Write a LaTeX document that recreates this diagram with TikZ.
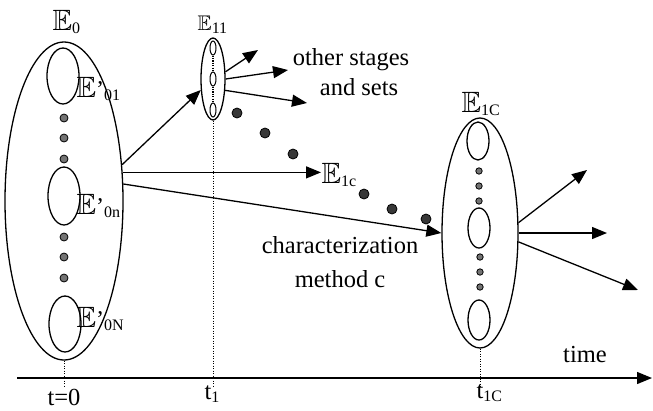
\documentclass[tikz,border=0pt]{standalone}
\usepackage{fontspec}
\setmainfont{Liberation Serif}
\usepackage{amssymb}
\usepackage{graphicx}
\usetikzlibrary{arrows.meta,shapes.geometric}
\newcommand{\bbE}{{\fontsize{24.88}{25}\selectfont\scalebox{1.18}{$\mathbb{E}$}}}
\newcommand{\smallbbE}{{\fontsize{24.88}{25}\selectfont\scalebox{0.85}{$\mathbb{E}$}}}
\newcommand{\apos}{{\fontsize{24}{24}\selectfont ’}}
\newcommand{\lowtxt}[1]{\raisebox{-3pt}{\fontsize{16}{16}\selectfont #1}}
\begin{document}
\begin{tikzpicture}[x=1pt,y=-1pt,line width=1.3pt,
  lab/.style={inner sep=0pt, anchor=base west},
  txt/.style={inner sep=0pt, anchor=base, font=\fontsize{24.5}{24.5}\selectfont},
  arr/.style={-{Triangle[length=15pt,width=12pt]}},
  big/.style={draw, ellipse, inner sep=0pt},
  dotA/.style={draw, line width=0.8pt, fill=black!55},
  dotB/.style={draw, line width=0.8pt, fill=black!78},
  guide/.style={line width=0.9pt, dash pattern=on 1pt off 1.5pt},
  chain/.style={line width=1.6pt, dash pattern=on 1.2pt off 1.2pt}]
\useasboundingbox (0,0) rectangle (653,410);

% big ellipses
\node[big, minimum width=118pt, minimum height=318pt] (e0) at (64,201) {};
\node[big, minimum width=32pt, minimum height=56pt] (e01) at (63,76) {};
\node[big, minimum width=32pt, minimum height=58pt] (e0n) at (64,196) {};
\node[big, minimum width=32pt, minimum height=56pt] (e0N) at (65,324) {};

\node[big, minimum width=24pt, minimum height=82pt] (e11) at (213,79) {};
\node[big, minimum width=6pt, minimum height=14pt, line width=1pt] (e11a) at (213,48) {};
\node[big, minimum width=6pt, minimum height=14pt, line width=1pt] (e11b) at (213,79) {};
\node[big, minimum width=6pt, minimum height=14pt, line width=1pt] (e11c) at (213,110) {};
\draw[chain] (e11a.south) -- (e11b.north);
\draw[chain] (e11b.south) -- (e11c.north);

\node[big, minimum width=76pt, minimum height=230pt] (e1C) at (480,233) {};
\node[big, minimum width=22pt, minimum height=38pt] (e1Ca) at (478,141) {};
\node[big, minimum width=22pt, minimum height=40pt] (e1Cb) at (479,228) {};
\node[big, minimum width=22pt, minimum height=40pt] (e1Cc) at (479,320) {};

% dots
\foreach \y in {118,138,159,237,257,278} \draw[dotA] (64,\y) circle[radius=4];
\foreach \y in {171,186,201} \draw[dotA] (479,\y) circle[radius=3.2];
\foreach \y in {257,272,287} \draw[dotA] (480,\y) circle[radius=3.2];
\foreach \p in {(237,113),(265,133),(293,154),(364,194),(392,209),(426,219)}
  \draw[dotB] \p circle[radius=5];

% labels
\node[lab] (lE0) at (52,30) {\bbE\lowtxt{0}};
\node[lab] (lE01) at (76,97) {\bbE\apos\lowtxt{01}};
\node[lab] (lE0n) at (76,214) {\bbE\apos\lowtxt{0n}};
\node[lab] (lE0N) at (76,327) {\bbE\apos\lowtxt{0N}};
\node[lab] (lE11) at (197,30) {\smallbbE\lowtxt{11}};
\node[lab] (e1c) at (321,183) {\bbE\lowtxt{1c}};
\node[lab] (lE1C) at (461,112) {\bbE\lowtxt{1C}};

\node[txt] (oth1) at (351,65) {other stages};
\node[txt] (oth2) at (359,95) {and sets};
\node[txt] (char1) at (340,253) {characterization};
\node[txt] (char2) at (340,287) {method c};
\node[txt] (time) at (585,362) {time};

% time axis
\coordinate (axs) at (17,378);
\coordinate (axe) at (652,378);
\draw[-{Triangle[length=15pt,width=12pt]}] (axs) -- (axe);
\draw[guide] (e0.south) -- ++(0,27);
\draw[guide] (e11.south) -- ++(0,267);
\draw[guide] (e1C.south) -- ++(0,40);
\node[txt] (t0) at (64,405) {t=0};
\node[lab, font=\fontsize{24.5}{24.5}\selectfont] (t1) at (204,399) {t\lowtxt{1}};
\node[lab, font=\fontsize{24.5}{24.5}\selectfont] (t1C) at (476,398) {t\lowtxt{1C}};

% connectors
\draw[arr] (e0.32) -- (e11.222);
\draw[arr] (e0.26) -- (e0.26 -| e1c.west);
\draw[arr] (e0.16) -- (e1C.west);

\coordinate (o1) at (258,50);
\coordinate (o2) at (288,70);
\coordinate (o3) at (307,103);
\draw[arr] (e11.30) -- (o1);
\draw[arr] (e11.east) -- (o2);
\draw[arr] (e11.-43) -- (o3);

\coordinate (p1) at (587,170);
\coordinate (p2) at (607,233);
\coordinate (p3) at (638,290);
\draw[arr] (e1C.15) -- (p1);
\draw[arr] (e1C.east) -- (p2);
\draw[arr] (e1C.-13) -- (p3);
\end{tikzpicture}
\end{document}
